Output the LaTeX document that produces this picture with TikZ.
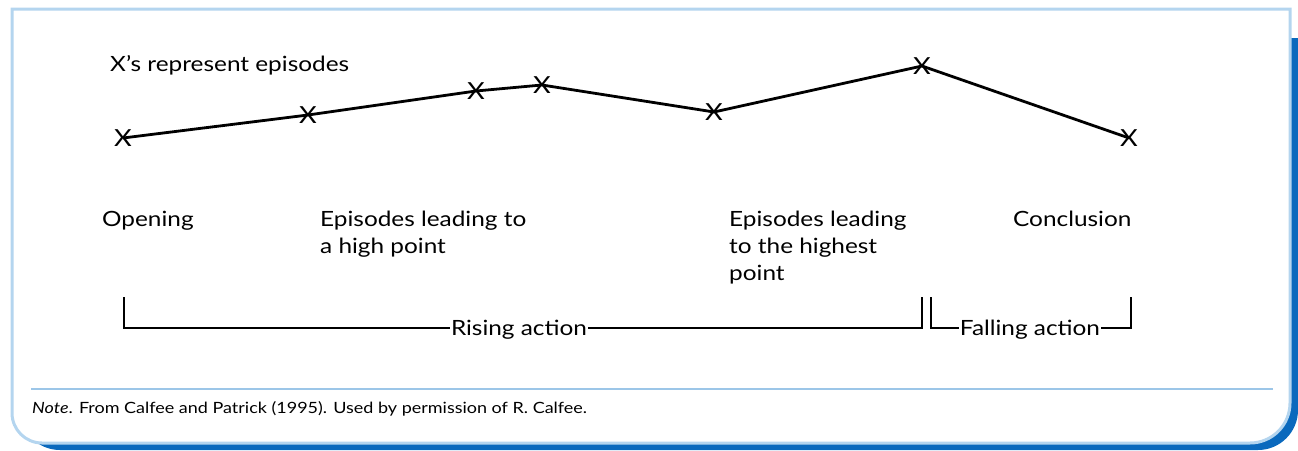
\documentclass[tikz,border=0pt]{standalone}
\usepackage{fontspec}
\setmainfont{Lato}[FakeStretch=1.16]
\usetikzlibrary{positioning}
\definecolor{framelight}{HTML}{B4D5EF}
\definecolor{framedark}{HTML}{0A69BD}
\definecolor{ruleblue}{HTML}{9CC6E8}

\begin{document}
\begin{tikzpicture}[x=1pt,y=-1pt,
episode/.style = {inner sep=0pt, font=\fontsize{23.5}{23.5}\selectfont},
caption/.style = {anchor=north west, align=left, inner sep=0pt,
	font=\fontsize{21}{27}\selectfont},
tag/.style = {inner sep=1pt, text depth=0pt, font=\fontsize{21}{21}\selectfont},
note/.style = {anchor=base west, inner sep=0pt, font=\fontsize{15.5}{20}\selectfont},
line/.style = {draw, line width=2.8pt}]

\useasboundingbox (0,0) rectangle (1298,450);

% shadow and frame
\begin{scope}
\clip (0,38) rectangle (1298,450);
\fill[framedark, rounded corners=40pt] (20,0) rectangle (1298,450);
\end{scope}
\draw[framelight, line width=3pt, fill=white] (12,9) -- (1290,9) -- (1290,403)
	arc[start angle=0, end angle=-90, radius=40pt] -- (42,443)
	arc[start angle=270, end angle=180, radius=30pt] -- cycle;
\draw[ruleblue, line width=1.5pt] (31,389) -- (1273,389);

% episodes
\node[caption, anchor=base west] (legend) at (110,71) {X’s represent episodes};
\node[episode] (e1) at (123,138) {X};
\node[episode] (e2) at (308,115) {X};
\node[episode] (e3) at (476,91) {X};
\node[episode] (e4) at (542,85) {X};
\node[episode] (e5) at (714,112) {X};
\node[episode] (e6) at (922,66) {X};
\node[episode] (e7) at (1129,138) {X};
\path[line] (e1.center) -- (e2.center) -- (e3.center) -- (e4.center)
	-- (e5.center) -- (e6.center) -- (e7.center);

% phases
\node[caption] (opening) at (102,211) {Opening};
\node[caption] (high) at (320,211) {Episodes leading to\\a high point};
\node[caption] (highest) at (729,211) {Episodes leading\\to the highest\\point};
\node[caption] (conclusion) at (1013,211) {Conclusion};

% brackets
\node[tag] (rising) at (519,328) {Rising action};
\node[tag] (falling) at (1030,328) {Falling action};
\coordinate (r0) at (124,297);
\coordinate (r1) at (922,297);
\coordinate (f0) at (931,297);
\coordinate (f1) at (1131,297);
\path[line] (r0) |- (rising.west);
\path[line] (rising.east) -| (r1);
\path[line] (f0) |- (falling.west);
\path[line] (falling.east) -| (f1);

\node[note] (source) at (32,413) {\textit{Note}. From Calfee and Patrick (1995). Used by permission of R. Calfee.};
\end{tikzpicture}
\end{document}
